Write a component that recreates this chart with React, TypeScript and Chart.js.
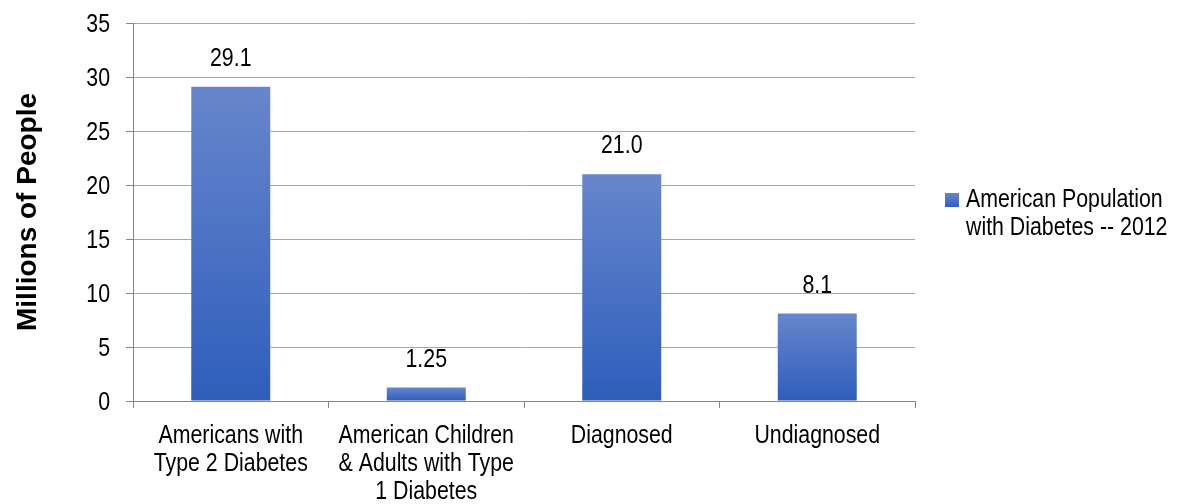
import React, { useEffect, useRef } from "react";
import { Chart, registerables } from "chart.js";

Chart.register(...registerables);

const categories: string[][] = [
  ["Americans with", "Type 2 Diabetes"],
  ["American Children", "& Adults with Type", "1 Diabetes"],
  ["Diagnosed"],
  ["Undiagnosed"],
];
const values: number[] = [29.1, 1.25, 21.0, 8.1];
const valueLabels: string[] = ["29.1", "1.25", "21.0", "8.1"];
const seriesName: string[] = ["American Population", "with Diabetes -- 2012"];
const yTitle = "Millions of People";
const yMin = 0;
const yMax = 35;
const yStep = 5;

const SANS = "'Liberation Sans', Arial, sans-serif";
const NARROW_SCALE = 0.82; // Arial Narrow ≈ Arial condensed horizontally
const FONT_SIZE = 26;
const TOP_COLOR = "#6786CC";
const BOTTOM_COLOR = "#2E5EBC";

function narrowText(ctx: CanvasRenderingContext2D, text: string, x: number, y: number, align: CanvasTextAlign) {
  ctx.save();
  ctx.scale(NARROW_SCALE, 1);
  ctx.font = `${FONT_SIZE}px ${SANS}`;
  ctx.fillStyle = "#000";
  ctx.textAlign = align;
  ctx.textBaseline = "alphabetic";
  ctx.fillText(text, x / NARROW_SCALE, y);
  ctx.restore();
}

export default function App() {
  const canvasRef = useRef<HTMLCanvasElement | null>(null);

  useEffect(() => {
    document.body.style.margin = "0";
    const canvas = canvasRef.current;
    if (!canvas) return;

    const textPlugin = {
      id: "narrowLabels",
      afterDraw(chart: any) {
        const ctx: CanvasRenderingContext2D = chart.ctx;
        const xs = chart.scales.x;
        const ys = chart.scales.y;
        const area = chart.chartArea;

        // y tick labels
        ys.ticks.forEach((t: any) => {
          const py = ys.getPixelForValue(t.value);
          narrowText(ctx, String(t.value), area.left - 23, py + 9, "right");
        });

        // x category labels
        categories.forEach((lines, i) => {
          const px = xs.getPixelForValue(i);
          lines.forEach((line, j) => {
            narrowText(ctx, line, px, area.bottom + 42 + j * 28, "center");
          });
        });

        // value labels
        const meta = chart.getDatasetMeta(0);
        meta.data.forEach((bar: any, i: number) => {
          narrowText(ctx, valueLabels[i], bar.x, bar.y - 21, "center");
        });

        // legend
        const lx = area.right + 30;
        const cy = (area.top + area.bottom) / 2;
        const base1 = cy - 5;
        ctx.save();
        const g = ctx.createLinearGradient(0, base1 - 14, 0, base1);
        g.addColorStop(0, TOP_COLOR);
        g.addColorStop(1, BOTTOM_COLOR);
        ctx.fillStyle = g;
        ctx.fillRect(lx, base1 - 14, 14, 14);
        ctx.restore();
        seriesName.forEach((line, i) => {
          narrowText(ctx, line, lx + 21, base1 + i * 28, "left");
        });
      },
    };

    const chart = new Chart(canvas, {
      type: "bar",
      data: {
        labels: categories,
        datasets: [
          {
            label: seriesName.join(" "),
            data: values,
            backgroundColor: (c: any) => {
              const ch = c.chart;
              const y = ch.scales && ch.scales.y;
              if (!y || c.dataIndex === undefined || !ch.chartArea) return "#4472C4";
              const top = y.getPixelForValue(values[c.dataIndex]);
              const bottom = y.getPixelForValue(0);
              if (!isFinite(top) || !isFinite(bottom) || top === bottom) return "#4472C4";
              const g = ch.ctx.createLinearGradient(0, top, 0, bottom);
              g.addColorStop(0, TOP_COLOR);
              g.addColorStop(1, BOTTOM_COLOR);
              return g;
            },
            borderWidth: 0,
            barPercentage: 0.404,
            categoryPercentage: 1,
          },
        ],
      },
      options: {
        animation: false,
        responsive: true,
        maintainAspectRatio: false,
        layout: { padding: { top: 23, right: 264, left: 0, bottom: 0 } },
        plugins: {
          legend: { display: false },
          tooltip: { enabled: false },
          title: { display: false },
        },
        scales: {
          x: {
            grid: {
              display: true,
              drawOnChartArea: false,
              drawTicks: true,
              tickLength: 7,
              color: "#868686",
              offset: true,
            },
            border: { display: true, color: "#868686", width: 1 },
            ticks: { display: false, autoSkip: false },
            afterFit: (scale: any) => {
              scale.height = 103;
            },
          },
          y: {
            min: yMin,
            max: yMax,
            ticks: { display: false, stepSize: yStep },
            grid: {
              color: "#A6A6A6",
              tickColor: "#868686",
              tickLength: 7,
              drawTicks: true,
            },
            border: { display: true, color: "#868686", width: 1 },
            title: {
              display: true,
              text: yTitle,
              color: "#000",
              font: { family: SANS, size: 28, weight: "bold", lineHeight: 1.2 },
              padding: { top: 11, bottom: 0 },
            },
            afterFit: (scale: any) => {
              scale.width = 133;
            },
          },
        },
      },
      plugins: [textPlugin],
    } as any);

    return () => {
      chart.destroy();
    };
  }, []);

  return (
    <div style={{ position: "relative", width: "1179px", height: "504px", background: "#fff" }}>
      <canvas ref={canvasRef} />
    </div>
  );
}
